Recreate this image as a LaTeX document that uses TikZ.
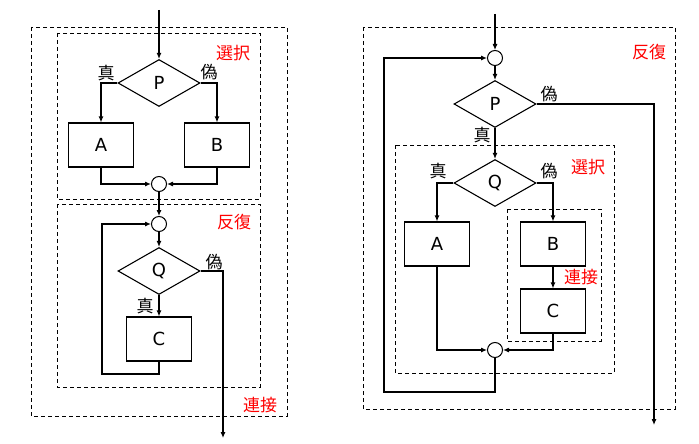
\documentclass[tikz,border=0pt]{standalone}
\usepackage{fontspec}
\setmainfont{DejaVu Sans}
\newfontfamily\cjk{Noto Sans CJK JP}
\usetikzlibrary{shapes.geometric,arrows.meta}
\begin{document}
\begin{tikzpicture}[x=1pt,y=-1pt,
  proc/.style={draw, line width=1.1pt, minimum width=65pt, minimum height=44pt, inner sep=0pt, font=\fontsize{18}{18}\selectfont},
  cond/.style={draw, diamond, line width=1.1pt, aspect=1.75, minimum width=82pt, minimum height=47pt, inner sep=0pt, font=\fontsize{18}{18}\selectfont},
  junc/.style={draw, circle, line width=1pt, minimum size=15pt, inner sep=0pt},
  flow/.style={line width=1.1pt},
  arr/.style={flow, -{Latex[length=6pt,width=5pt]}},
  grp/.style={draw, line width=0.9pt, dash pattern=on 4pt off 3pt},
  tf/.style={font=\cjk\fontsize{17}{17}\selectfont, inner sep=0pt},
  kind/.style={font=\cjk\fontsize{17}{17}\selectfont, text=red, inner sep=0pt}]
\useasboundingbox (0,0) rectangle (699,444);
% ---------- left diagram ----------
\draw[grp] (31,27) rectangle (287,416);
\draw[grp] (57,33) rectangle (260,199);
\draw[grp] (57,204) rectangle (260,387);
\node[kind] (selL) at (233,53) {選択};
\node[kind] (repL) at (234,222) {反復};
\node[kind] (seqL) at (260,405) {連接};

\node[cond] (P) at (159,83) {P};
\node[proc] (A) at (101,145) {A};
\node[proc] (B) at (217,145) {B};
\node[junc] (J1) at (159,184) {};
\node[junc] (J2) at (159,224) {};
\node[cond] (Q) at (159,271) {Q};
\node[proc] (C) at (159,339) {C};
\node[tf] (tP) at (106,73) {真};
\node[tf] (fP) at (209,72) {偽};
\node[tf] (fQ) at (214,262) {偽};
\node[tf] (tQ) at (145,306) {真};
\coordinate (inL) at (159,10);
\coordinate (outL) at (223,438);
\coordinate (loopL) at (102,374);

\draw[arr] (inL) -- (P.north);
\draw[arr] (P.west) -| (A.north);
\draw[arr] (P.east) -| (B.north);
\draw[arr] (A.south) |- (J1.west);
\draw[arr] (B.south) |- (J1.east);
\draw[arr] (J1.south) -- (J2.north);
\draw[arr] (J2.south) -- (Q.north);
\draw[arr] (Q.south) -- (C.north);
\draw[arr] (Q.east) -| (outL);
\draw[arr] (C.south) |- (loopL) |- (J2.west);

% ---------- right diagram ----------
\draw[grp] (363,27) rectangle (675,409);
\draw[grp] (395,145) rectangle (614,373);
\draw[grp] (507,209) rectangle (601,341);
\node[kind] (repR) at (649,52) {反復};
\node[kind] (selR) at (588,167) {選択};
\node[kind] (seqR) at (581,277) {連接};

\node[junc] (J3) at (495,58) {};
\node[cond] (P2) at (495,104) {P};
\node[cond] (Q2) at (495,183) {Q};
\node[proc] (A2) at (437,244) {A};
\node[proc] (B2) at (553,244) {B};
\node[proc] (C2) at (553,311) {C};
\node[junc] (J4) at (495,350) {};
\node[tf] (fP2) at (549,94) {偽};
\node[tf] (tP2) at (482,135) {真};
\node[tf] (tQ2) at (438,171) {真};
\node[tf] (fQ2) at (549,171) {偽};
\coordinate (inR) at (495,14);
\coordinate (outR) at (654,425);
\coordinate (loopR) at (384,392);

\draw[arr] (inR) -- (J3.north);
\draw[arr] (J3.south) -- (P2.north);
\draw[arr] (P2.south) -- (Q2.north);
\draw[arr] (P2.east) -| (outR);
\draw[arr] (Q2.west) -| (A2.north);
\draw[arr] (Q2.east) -| (B2.north);
\draw[arr] (B2.south) -- (C2.north);
\draw[arr] (A2.south) |- (J4.west);
\draw[arr] (C2.south) |- (J4.east);
\draw[arr] (J4.south) |- (loopR) |- (J3.west);
\end{tikzpicture}
\end{document}
